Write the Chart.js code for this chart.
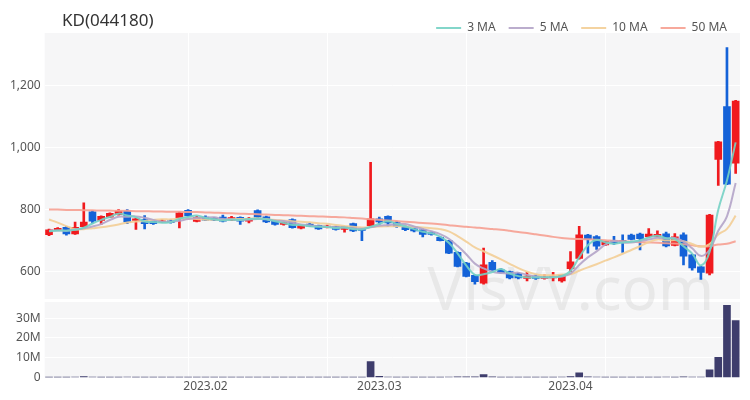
<!DOCTYPE html>
<html>
<head>
<meta charset="utf-8">
<script src="https://cdn.jsdelivr.net/npm/chart.js@4.4.0/dist/chart.umd.min.js"></script>
<style>
  html, body { margin: 0; padding: 0; background: #fff; }
  #wrap { position: relative; width: 750px; height: 400px; }
  #title { position: absolute; left: 62px; top: 8px; font: 17px 'Noto Sans', sans-serif; color: #333; }
</style>
</head>
<body>
<div id="wrap">
  <canvas id="chart" width="750" height="400"></canvas>
  <div id="title">KD(044180)</div>
</div>
<script>
const dates = [
  '2023-01-04','2023-01-05','2023-01-06','2023-01-09','2023-01-10','2023-01-11','2023-01-12','2023-01-13','2023-01-16','2023-01-17',
  '2023-01-18','2023-01-19','2023-01-20','2023-01-25','2023-01-26','2023-01-27','2023-01-30','2023-01-31',
  '2023-02-01','2023-02-02','2023-02-03','2023-02-06','2023-02-07','2023-02-08','2023-02-09','2023-02-10','2023-02-13','2023-02-14',
  '2023-02-15','2023-02-16','2023-02-17','2023-02-20','2023-02-21','2023-02-22','2023-02-23','2023-02-24','2023-02-27','2023-02-28',
  '2023-03-02','2023-03-03','2023-03-06','2023-03-07','2023-03-08','2023-03-09','2023-03-10','2023-03-13','2023-03-14','2023-03-15',
  '2023-03-16','2023-03-17','2023-03-20','2023-03-21','2023-03-22','2023-03-23','2023-03-24','2023-03-27','2023-03-28','2023-03-29',
  '2023-03-30','2023-03-31',
  '2023-04-03','2023-04-04','2023-04-05','2023-04-06','2023-04-07','2023-04-10','2023-04-11','2023-04-12','2023-04-13','2023-04-14',
  '2023-04-17','2023-04-18','2023-04-19','2023-04-20','2023-04-21','2023-04-24','2023-04-25','2023-04-26','2023-04-27','2023-04-28'
];

const opens = [719,735,743,722,745,793,765,776,784,795, 765,768,762,760,764,772,798,762,776,772,
  776,766,775,763,797,777,762,752,768,740, 753,749,743,745,736,755,737,748,770,778,
  758,745,738,735,727,711,700,662,628,588, 563,630,606,600,594,578,586,578,580,570,
  610,643,718,713,686,700,700,718,721,713, 714,722,685,719,654,616,595,962,1132,950];
const highs = [737,742,746,760,822,796,780,790,800,800, 772,781,764,768,768,792,800,778,780,775,
  782,778,777,775,799,779,764,760,770,750, 757,750,750,747,746,757,740,952,776,780,
  762,748,741,737,729,713,701,664,630,590, 676,636,610,602,596,598,590,590,598,590,
  665,746,720,716,698,714,719,721,724,739, 732,728,723,725,656,618,785,1020,1322,1152];
const lows = [716,733,718,720,743,756,752,774,782,755, 736,738,752,758,756,741,778,760,764,764,
  760,764,752,757,774,758,750,750,740,738, 745,736,741,734,727,729,700,746,752,745,
  743,732,728,712,718,699,658,615,583,560, 560,604,595,577,577,570,575,576,570,566,
  600,640,660,672,684,688,662,702,670,711, 712,680,683,622,605,575,590,878,880,917];
const closes = [735,740,722,743,760,763,778,788,795,760, 770,755,755,764,758,790,780,774,766,766,
  763,774,763,772,776,760,752,758,742,749, 747,738,747,736,745,731,733,770,760,757,
  745,735,731,720,720,700,660,617,585,568, 622,606,597,580,580,586,578,583,586,589,
  632,719,705,682,697,692,694,704,706,721, 720,683,712,650,612,598,782,1018,882,1150];

// volume, millions of shares
const volumes = [0.15,0.1,0.12,0.2,0.5,0.3,0.15,0.12,0.15,0.2, 0.15,0.12,0.08,0.08,0.07,0.15,0.12,0.08,0.07,0.06,
  0.07,0.06,0.08,0.07,0.12,0.1,0.06,0.05,0.1,0.06, 0.05,0.06,0.05,0.06,0.07,0.1,0.15,8.1,0.6,0.3,
  0.15,0.1,0.1,0.12,0.08,0.15,0.3,0.4,0.45,0.4, 1.5,0.35,0.15,0.12,0.1,0.15,0.08,0.08,0.12,0.2,
  0.5,2.4,0.45,0.2,0.1,0.1,0.15,0.08,0.12,0.15, 0.1,0.2,0.12,0.35,0.3,0.25,3.9,10.2,36.5,28.8];

const ma3 = [730,733,732.3,735,741.7,755.3,767,776.3,787,781, 775,761.7,760,758,759,770.7,776,781.3,773.3,768.7,
  765,767.7,766.7,769.7,770.3,769.3,762.7,756.7,750.7,749.7, 746,744.7,744,740.3,742.7,737.3,736.3,744.7,754.3,762.3,
  754,745.7,737,728.7,723.7,713.3,693.3,659,620.7,590, 591.7,598.7,608.3,594.3,585.7,582,581.3,582.3,582.3,586,
  602.3,646.7,685.3,702,694.7,690.3,694.3,696.7,701.3,710.3, 715.7,708,705,681.7,658,620,664,799.3,894,1016.7];
const ma5 = [732,733,732,736,740,745.6,753.2,766.4,776.8,776.8, 778.2,773.6,767,760.8,760.4,764.4,769.4,773.2,773.6,775.2,
  769.8,768.6,766.4,767.6,769.6,769,764.6,763.6,757.6,752.2, 749.6,746.8,744.6,743.4,742.6,739.4,738.4,743,747.8,750.2,
  753,753.4,745.6,737.6,730.2,721.2,706.2,683.4,656.4,626, 610.4,599.6,595.6,594.6,597,589.8,584.2,581.4,582.6,584.4,
  593.6,621.8,646.2,665.4,687,699,694,693.8,698.6,703.4, 709,706.8,708.4,697.2,675.4,651,670.8,732,778.4,886];
const ma10 = [768,758,747,737,737,740,743,747,752,758.4, 761.9,763.4,766.7,768.8,768.6,771.3,771.5,770.1,767.2,767.8,
  767.1,769,769.8,770.6,772.4,769.4,766.6,765,762.6,760.9, 759.3,755.7,754.1,750.5,747.4,744.5,742.6,743.8,745.6,746.4,
  746.2,745.9,744.3,742.7,740.2,737.1,729.8,714.5,697,678.1, 665.8,652.9,639.5,625.5,611.5,600.1,591.9,588.5,588.6,590.7,
  591.7,603,613.8,624,635.7,646.3,657.9,670,682,695.2, 704,700.4,701.1,697.9,689.4,680,688.8,720.2,737.8,780.7];
const ma50 = [800,800,799,799,798,798,797,797,796,796, 795,795,794,794,793,793,792,792,791,790,
  789,788,787,786,785,784,783,782,781,780, 779,778,777,776,775,773,771,769,767,765,
  763,761,759,757,755,753,750,747,745,742.3, 740.1,737.4,734.9,731.6,728,724.5,720.5,716.4,712.2,708.8,
  706,705.3,704.3,702.7,701.4,699.5,697.8,696.4,695.2,694.3, 693.4,691.6,690.6,688.1,684.8,681.6,682.2,687.4,690.2,698.2];

const priceTicks = [600, 800, 1000, 1200];
const volumeTicks = [0, 10, 20, 30];

const font = "'Noto Sans', sans-serif";
const upColor = '#f01a1e';
const downColor = '#1462d8';
const candleColors = opens.map((o, i) => closes[i] >= o ? upColor : downColor);

function maLine(label, data, color, order) {
  return {
    type: 'line', label: label, data: data, yAxisID: 'y', order: order,
    borderColor: color, backgroundColor: color, borderWidth: 2,
    pointRadius: 0, tension: 0.4
  };
}

const panelBg = {
  id: 'panelBg',
  beforeDraw(chart) {
    const { ctx, chartArea } = chart;
    const y = chart.scales.y, v = chart.scales.v;
    ctx.save();
    ctx.fillStyle = '#f6f6f7';
    ctx.fillRect(chartArea.left, y.top, chartArea.width, y.bottom - y.top);
    ctx.fillRect(chartArea.left, v.top + 3, chartArea.width, v.bottom - v.top - 3);
    ctx.restore();
  },
  beforeDatasetsDraw(chart) {
    const ctx = chart.ctx;
    ctx.save();
    ctx.font = "60px 'Noto Sans', sans-serif";
    ctx.fillStyle = 'rgba(200,200,200,0.3)';
    ctx.textAlign = 'right';
    ctx.fillText('VisVV.com', 714, 293);
    ctx.restore();
  }
};

new Chart(document.getElementById('chart'), {
  type: 'bar',
  data: {
    labels: dates,
    datasets: [
      maLine('3 MA', ma3, 'rgba(118,210,196,0.9)', 0),
      maLine('5 MA', ma5, 'rgba(180,164,200,0.9)', 1),
      maLine('10 MA', ma10, 'rgba(243,206,150,0.9)', 2),
      maLine('50 MA', ma50, 'rgba(246,160,145,0.9)', 3),
      {
        label: 'wick', data: lows.map((l, i) => [l, highs[i]]), yAxisID: 'y', order: 11,
        backgroundColor: candleColors, barThickness: 2, grouped: false
      },
      {
        label: 'body', data: opens.map((o, i) => [o, closes[i]]), yAxisID: 'y', order: 10,
        backgroundColor: candleColors, barThickness: 7, minBarLength: 1, grouped: false
      },
      {
        label: 'volume', data: volumes, yAxisID: 'v', order: 12,
        backgroundColor: '#3e3d6c', barThickness: 7, grouped: false
      }
    ]
  },
  options: {
    responsive: false,
    animation: false,
    layout: { padding: { left: 6, right: 10, top: 9, bottom: 4 } },
    plugins: {
      legend: {
        position: 'top',
        align: 'end',
        maxHeight: 24,
        labels: {
          filter: item => item.text.indexOf('MA') > 0,
          usePointStyle: true, pointStyle: 'line', pointStyleWidth: 25,
          color: '#555', font: { size: 12, family: font }, padding: 13
        }
      },
      tooltip: { enabled: false }
    },
    scales: {
      x: {
        grid: {
          offset: false, drawTicks: false,
          color: c => (c.index > 0 && c.index % 16 === 0) ? '#ffffff' : 'rgba(0,0,0,0)'
        },
        border: { display: false },
        ticks: {
          autoSkip: false, maxRotation: 0, padding: 2,
          color: '#555', font: { size: 12, family: font },
          callback: (v, i) => {
            if (i === 0) return '';
            const m = dates[i].slice(0, 7);
            return m !== dates[i - 1].slice(0, 7) ? m.replace('-', '.') : '';
          }
        }
      },
      v: {
        stack: 'panels', stackWeight: 78, position: 'left',
        min: 0, max: 39.65,
        afterBuildTicks: s => { s.ticks = volumeTicks.map(v => ({ value: v })); },
        grid: { color: '#ffffff', drawTicks: false },
        border: { display: false },
        ticks: {
          autoSkip: false, padding: 4, color: '#555', font: { size: 12, family: font },
          callback: v => v === 0 ? '0' : v + 'M'
        }
      },
      y: {
        stack: 'panels', stackWeight: 264, position: 'left',
        min: 512, max: 1369,
        afterBuildTicks: s => { s.ticks = priceTicks.map(v => ({ value: v })); },
        grid: { color: '#ffffff', drawTicks: false },
        border: { display: false },
        ticks: {
          autoSkip: false, padding: 4, color: '#555', font: { size: 12, family: font },
          callback: v => v.toLocaleString('en-US')
        }
      }
    }
  },
  plugins: [panelBg]
});
</script>
</body>
</html>
